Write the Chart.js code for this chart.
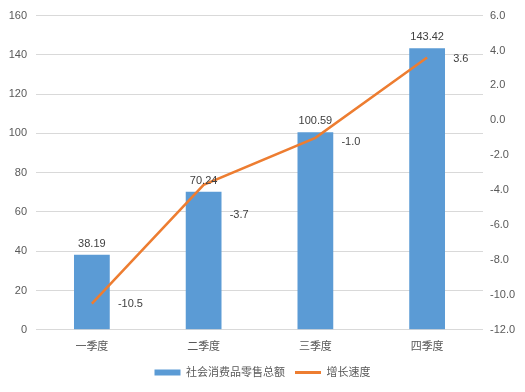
<!DOCTYPE html>
<html>
<head>
<meta charset="utf-8">
<script src="https://cdn.jsdelivr.net/npm/chart.js@4"></script>
<style>
  html, body { margin: 0; padding: 0; background: #fff; }
  #wrap { width: 525px; height: 392px; position: relative; }
</style>
</head>
<body>
<div id="wrap"><canvas id="retailChart"></canvas></div>
<script>
// Data
const quarters = ['一季度', '二季度', '三季度', '四季度'];
const retailTotals = [38.19, 70.24, 100.59, 143.42];
const growthRates = [-10.5, -3.7, -1.0, 3.6];
const leftTicks = [0, 20, 40, 60, 80, 100, 120, 140, 160];
const rightTicks = [-12, -10, -8, -6, -4, -2, 0, 2, 4, 6];

const FONT = "'Liberation Sans', 'Noto Sans CJK SC', sans-serif";
const BAR_COLOR = '#5B9BD5';
const LINE_COLOR = '#ED7D31';

// Draws value labels: above bars, to the right of line points
const valueLabels = {
    id: 'valueLabels',
    afterDatasetsDraw(chart) {
        const ctx = chart.ctx;
        ctx.save();
        ctx.font = '11px ' + FONT;
        ctx.fillStyle = '#404040';

        const barMeta = chart.getDatasetMeta(0);
        ctx.textAlign = 'center';
        ctx.textBaseline = 'middle';
        barMeta.data.forEach((bar, i) => {
            ctx.fillText(retailTotals[i].toFixed(2), bar.x, bar.y - 11);
        });

        // second label is nudged down in the original to stay clear of the line
        const nudge = [0, 30, 4, 1];
        const lineMeta = chart.getDatasetMeta(1);
        ctx.textAlign = 'left';
        lineMeta.data.forEach((pt, i) => {
            ctx.fillText(growthRates[i].toFixed(1), pt.x + 26, pt.y + nudge[i]);
        });
        ctx.restore();
    }
};

new Chart(document.getElementById('retailChart'), {
    type: 'bar',
    data: {
        labels: quarters,
        datasets: [{
            label: '社会消费品零售总额',
            data: retailTotals,
            backgroundColor: BAR_COLOR,
            yAxisID: 'y',
            categoryPercentage: 1,
            barPercentage: 0.32,
            order: 2
        }, {
            type: 'line',
            label: '增长速度',
            data: growthRates,
            borderColor: LINE_COLOR,
            backgroundColor: LINE_COLOR,
            borderWidth: 2.5,
            pointRadius: 0,
            tension: 0,
            yAxisID: 'y1',
            order: 1
        }]
    },
    options: {
        responsive: true,
        maintainAspectRatio: false,
        animation: false,
        layout: { padding: { top: 8, bottom: 4 } },
        plugins: {
            tooltip: { enabled: false },
            legend: {
                position: 'bottom',
                labels: {
                    font: { family: FONT, size: 11 },
                    color: '#595959',
                    usePointStyle: true,
                    pointStyleWidth: 26,
                    boxHeight: 6,
                    padding: 10,
                    generateLabels(chart) {
                        const items = Chart.defaults.plugins.legend.labels.generateLabels(chart);
                        items.sort((a, b) => a.datasetIndex - b.datasetIndex);
                        items.forEach(item => {
                            if (item.datasetIndex === 0) {
                                item.pointStyle = 'rect';
                                item.lineWidth = 0;
                            } else {
                                item.pointStyle = 'line';
                                item.lineWidth = 3;
                                item.strokeStyle = LINE_COLOR;
                            }
                        });
                        return items;
                    }
                }
            }
        },
        scales: {
            x: {
                grid: { display: false },
                border: { display: false },
                ticks: { color: '#595959', font: { family: FONT, size: 11 }, padding: 3 }
            },
            y: {
                position: 'left',
                min: 0,
                max: 160,
                afterBuildTicks: axis => { axis.ticks = leftTicks.map(v => ({ value: v })); },
                afterFit: axis => { axis.width = 36; },
                grid: { color: '#D9D9D9', drawTicks: false },
                border: { display: false },
                ticks: { color: '#595959', font: { family: FONT, size: 11 }, padding: 9 }
            },
            y1: {
                position: 'right',
                min: -12,
                max: 6,
                afterBuildTicks: axis => { axis.ticks = rightTicks.map(v => ({ value: v })); },
                afterFit: axis => { axis.width = 42; },
                grid: { display: false, drawTicks: false },
                border: { display: false },
                ticks: {
                    color: '#595959',
                    font: { family: FONT, size: 11 },
                    padding: 7,
                    callback: v => v.toFixed(1)
                }
            }
        }
    },
    plugins: [valueLabels]
});
</script>
</body>
</html>
